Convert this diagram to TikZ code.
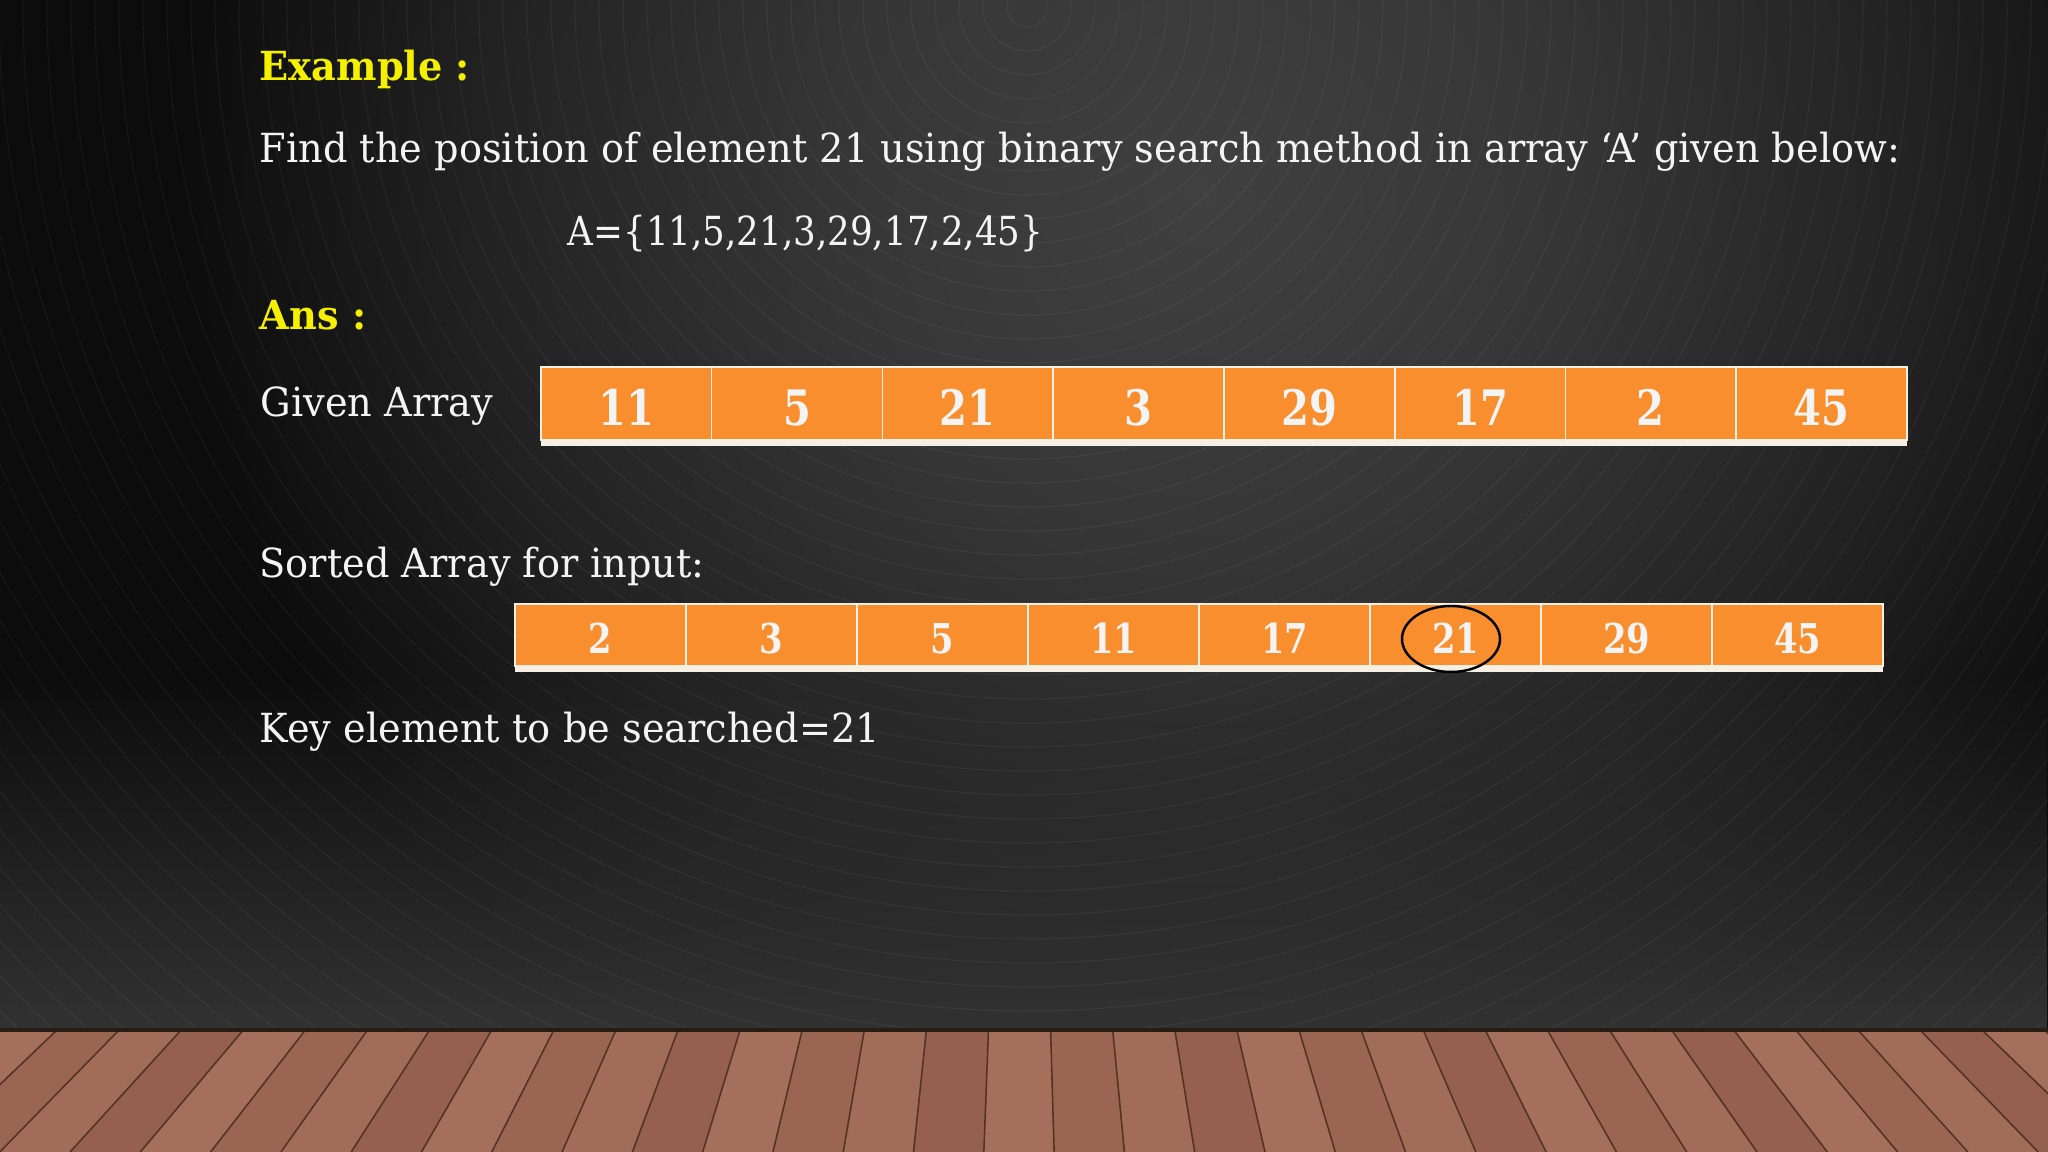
\documentclass[tikz,border=0pt]{standalone}
\usepackage{fontspec}
\setmainfont[FakeStretch=0.955]{DejaVu Serif}
\newfontfamily\setfont[FakeStretch=0.89]{DejaVu Serif}
\newfontfamily\numfont[FakeStretch=0.82]{DejaVu Serif}
\usetikzlibrary{fadings}

\definecolor{arrorange}{RGB}{249,142,46}
\definecolor{hiyellow}{RGB}{244,240,0}
\definecolor{textwhite}{RGB}{244,244,244}
\definecolor{cellline}{RGB}{246,240,228}
\definecolor{wallgray}{RGB}{50,50,50}
\definecolor{glowc}{RGB}{64,64,64}
\definecolor{midc}{RGB}{54,54,54}
\definecolor{darkc}{RGB}{34,34,34}
\definecolor{edgec}{RGB}{12,12,12}
\definecolor{wood0}{RGB}{154,102,82}
\definecolor{wood1}{RGB}{161,109,89}
\definecolor{wood2}{RGB}{149,97,78}
\definecolor{wood3}{RGB}{164,112,91}
\definecolor{plankline}{RGB}{86,50,36}
\definecolor{floortop}{RGB}{40,28,22}

\tikzfading[name=fade up, top color=transparent!100, bottom color=transparent!0]
\pgfdeclareradialshading{wallglow}{\pgfpoint{0bp}{0bp}}{color(0bp)=(glowc); color(6bp)=(midc); color(12bp)=(darkc); color(17bp)=(edgec); color(50bp)=(edgec)}

\tikzset{
  body/.style={anchor=base west, inner sep=0pt, text=textwhite,
    font=\fontsize{11.4pt}{13pt}\selectfont},
  heading/.style={body, text=hiyellow, font=\fontsize{11.4pt}{13pt}\selectfont\bfseries},
  cell/.style={draw=cellline, line width=0.45pt, fill=arrorange, inner sep=0pt, text=textwhite},
  givencell/.style={cell, minimum width=1.7075cm, minimum height=0.73cm,
    text height=0.44cm, text depth=0pt,
    font={\numfont\bfseries\fontsize{13.9pt}{15pt}\selectfont}},
  sortedcell/.style={cell, minimum width=1.71cm, minimum height=0.62cm,
    text height=0.37cm, text depth=0pt,
    font={\numfont\bfseries\fontsize{11.7pt}{13pt}\selectfont}},
  keyring/.style={draw=black, line width=0.7pt}
}

\begin{document}
\begin{tikzpicture}[x=0.01cm, y=0.01cm]
    \useasboundingbox (0,0) rectangle (2048,1152);

    % Wall
    \begin{scope}
        \clip (0,122) rectangle (2048,1152);
        \fill[edgec] (0,122) rectangle (2048,1152);
        \shade[shading=wallglow] (1200,960) circle [radius=1500];
        \fill[wallgray, path fading=fade up] (0,122) rectangle (2048,480);
        \foreach \r in {20,44,...,1700}
            \draw[white, opacity=0.05, line width=0.3pt] (1027,1145) circle [radius=\r];
    \end{scope}

    % Floor planks
    \begin{scope}
        \clip (0,0) rectangle (2048,122);
        \fill[wood0] (0,0) rectangle (2048,122);
        \foreach \k in {-1,...,32}
        {
            \pgfmathsetmacro\xa{57+62.1*\k}
            \pgfmathsetmacro\xb{57+62.1*(\k+1)}
            \pgfmathtruncatemacro\m{mod(\k+8,4)}
            \fill[wood\m] (\xa,122) -- (\xb,122) -- ({\xb+(\xb-1024)*0.1319},0)
                -- ({\xa+(\xa-1024)*0.1319},0) -- cycle;
            \draw[plankline, line width=0.45pt] (\xa,122) -- ({\xa+(\xa-1024)*0.1319},0);
        }
    \end{scope}
    \draw[floortop, line width=0.9pt] (0,122) -- (2048,122);

    % Question
    \node[heading] (example) at (259,1071) {Example :};
    \node[body] (question) at (259,989) {Find the position of element 21 using binary search method in array ‘A’ given below:};
    \node[body, font=\setfont\fontsize{11.4pt}{13pt}\selectfont] (arrayset) at (567,906) {A=\{11,5,21,3,29,17,2,45\}};

    % Answer
    \node[heading] (ans) at (259,822) {Ans :};
    \node[body] (givenlbl) at (260,735) {Given Array};

    % Given array
    \fill[cellline] (541,706) rectangle (1907,713);
    \foreach \v [count=\i] in {11,5,21,3,29,17,2,45}
        \node[givencell] (g\i) at ({541+(\i-0.5)*170.75},748.5) {\v};

    \node[body] (sortedlbl) at (259,574) {Sorted Array for input:};

    % Sorted array
    \fill[cellline] (515,480) rectangle (1883,487);
    \foreach \v [count=\i] in {2,3,5,11,17,21,29,45}
        \node[sortedcell] (s\i) at ({515+(\i-0.5)*171},517) {\v};
    \draw[keyring] (1451,513) ellipse [x radius=49, y radius=33];

    \node[body] (keylbl) at (259,409) {Key element to be searched=21};

\end{tikzpicture}
\end{document}
